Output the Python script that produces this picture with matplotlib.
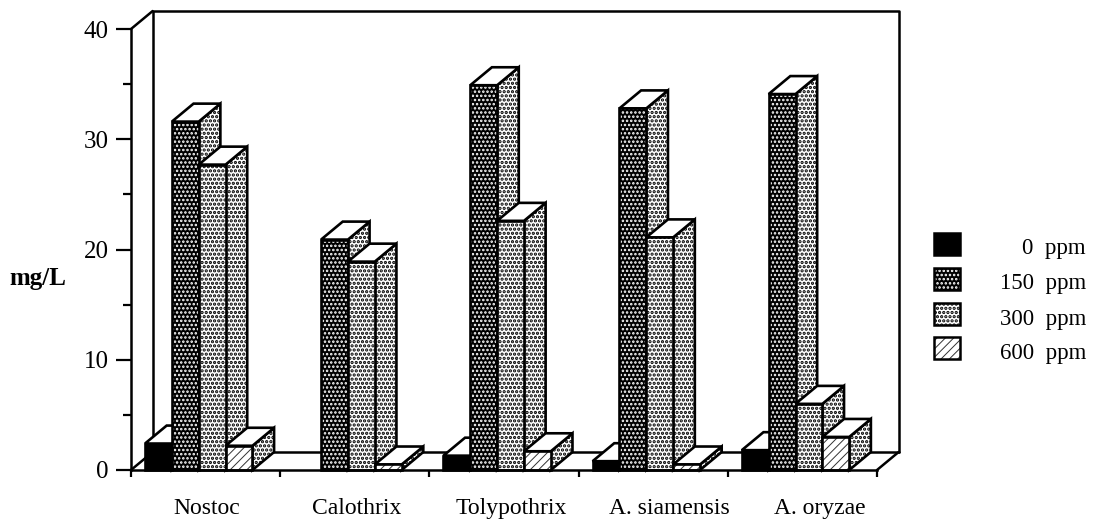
import matplotlib
matplotlib.use('Agg')
import matplotlib.pyplot as plt
from matplotlib.patches import Polygon, Rectangle

categories = ['Nostoc', 'Calothrix', 'Tolypothrix', 'A. siamensis', 'A. oryzae']
series_names = ['0', '150', '300', '600']
ppm_0 = [2.4, 0, 1.3, 0.8, 1.8]
ppm_150 = [31.6, 20.9, 34.9, 32.8, 34.1]
ppm_300 = [27.7, 18.9, 22.6, 21.1, 6.0]
ppm_600 = [2.2, 0.5, 1.7, 0.5, 3.0]
y_ticks = [0, 10, 20, 30, 40]
y_minor = [5, 15, 25, 35]

plt.rcParams['font.family'] = ['Liberation Serif', 'DejaVu Serif']

W, H = 1096, 520
fig = plt.figure(figsize=(W / 100, H / 100), dpi=100)
ax = fig.add_axes([131 / W, 1 - 470 / H, (877 - 131) / W, (470 - 29) / H])
ax.set_xlim(0, 5)
ax.set_ylim(0, 40)
ax.patch.set_visible(False)

dx = 0.145   # depth of the box, x
dy = 1.63    # depth of the box, y
bar_w = 0.18
start = 0.094

styles = [
    {'fc': 'black', 'hatch': None, 'hc': 'black', 'hw': 0.8},
    {'fc': 'black', 'hatch': '....', 'hc': 'white', 'hw': 1.2},
    {'fc': 'white', 'hatch': '....', 'hc': 'black', 'hw': 1.6},
    {'fc': 'white', 'hatch': '////', 'hc': '#333333', 'hw': 0.7},
]


def face(pts, fc, hatch=None, hc='black', hw=0.8, z=3):
    # fill + hatch first, then the outline on top
    p = Polygon(pts, closed=True, facecolor=fc, edgecolor=hc, hatch=hatch,
                linewidth=0, clip_on=False, zorder=z)
    p.set_hatch_linewidth(hw)
    ax.add_patch(p)
    ax.add_patch(Polygon(pts, closed=True, facecolor='none', edgecolor='black',
                         linewidth=1.9, clip_on=False, zorder=z))


# box walls and floor
wall = dict(color='black', lw=1.8, clip_on=False, zorder=1, solid_capstyle='round')
ax.plot([dx, dx, 5 + dx, 5 + dx], [dy, 40 + dy, 40 + dy, dy], **wall)
ax.plot([0, dx], [40, 40 + dy], **wall)
ax.plot([dx, 5 + dx], [dy, dy], **wall)
ax.plot([0, dx], [0, dy], **wall)
ax.plot([5, 5 + dx], [0, dy], **wall)

z = 3
for i in range(len(categories)):
    values = [ppm_0[i], ppm_150[i], ppm_300[i], ppm_600[i]]
    for j, v in enumerate(values):
        if v == 0:
            continue
        st = styles[j]
        x0 = i + start + j * bar_w
        x1 = x0 + bar_w
        # side faces all use the light dot pattern, except the solid black bars
        side = st if j == 0 else styles[2]
        face([(x1, 0), (x1 + dx, dy), (x1 + dx, v + dy), (x1, v)],
             side['fc'], side['hatch'], side['hc'], side['hw'], z)
        face([(x0, v), (x1, v), (x1 + dx, v + dy), (x0 + dx, v + dy)], 'white', z=z)
        face([(x0, 0), (x1, 0), (x1, v), (x0, v)], st['fc'], st['hatch'], st['hc'], st['hw'], z)
        z += 1

# axes
for s in ['top', 'right']:
    ax.spines[s].set_visible(False)
ax.spines['left'].set_linewidth(1.8)
ax.spines['bottom'].set_linewidth(1.8)
ax.spines['bottom'].set_zorder(50)
ax.set_yticks(y_ticks)
ax.set_yticks(y_minor, minor=True)
ax.set_xticks(range(len(categories) + 1))
ax.set_xticklabels([])
ax.tick_params(axis='y', which='major', length=11, width=1.6, labelsize=18, pad=5)
ax.tick_params(axis='y', which='minor', length=6, width=1.6)
ax.tick_params(axis='x', which='major', length=5, width=1.6)

label_pos = [0.51, 1.51, 2.55, 3.61, 4.62]
ax.set_xticks(label_pos, minor=True)
ax.set_xticklabels(categories, minor=True)
ax.tick_params(axis='x', which='minor', length=0, labelsize=17, pad=20)

fig.text(38 / W, 1 - 279 / H, 'mg/L', fontsize=18, fontweight='bold', ha='center', va='center')

# legend
swatch_y = [233, 268, 303, 337]
text_y = [248, 283, 319, 353]
for name, sy, ty, st in zip(series_names, swatch_y, text_y, styles):
    p = Rectangle((934 / W, 1 - (sy + 22) / H), 26 / W, 22 / H, transform=fig.transFigure,
                  facecolor=st['fc'], edgecolor=st['hc'], hatch=st['hatch'], linewidth=0)
    p.set_hatch_linewidth(st['hw'])
    fig.add_artist(p)
    fig.add_artist(Rectangle((934 / W, 1 - (sy + 22) / H), 26 / W, 22 / H, transform=fig.transFigure,
                             facecolor='none', edgecolor='black', linewidth=1.8))
    fig.text(1086 / W, 1 - ty / H, name + '  ppm', fontsize=16.5, ha='right', va='center')

fig.savefig('out.png', dpi=100)
